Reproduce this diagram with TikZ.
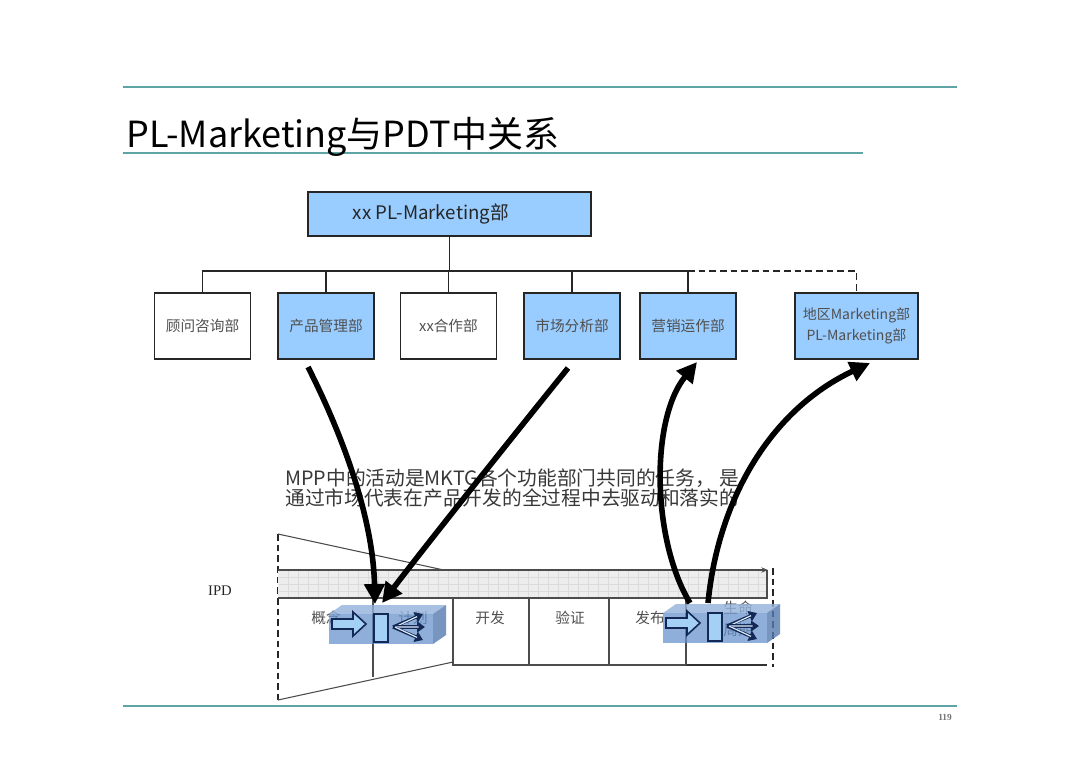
\documentclass[tikz,border=0pt]{standalone}
\usepackage{fontspec}
\setmainfont{Noto Sans CJK SC}
\newfontfamily\serifl{Liberation Serif}
\usetikzlibrary{arrows.meta,calc}
\definecolor{tealline}{RGB}{95,165,165}
\definecolor{boxblue}{RGB}{153,204,255}
\definecolor{cubeblue}{RGB}{100,145,205}
\definecolor{arrblue}{RGB}{165,208,245}
\definecolor{navyline}{RGB}{20,40,85}
\definecolor{txtgray}{RGB}{80,80,80}
\tikzset{
  deptbox/.style={draw=black!85, line width=1.1pt, minimum width=72pt, minimum height=49.5pt, inner sep=1pt, font=\fontsize{11}{14}\selectfont, text=txtgray, align=center},
  bluebox/.style={deptbox, fill=boxblue},
  orgline/.style={line width=0.9pt, black!85},
  phaseline/.style={line width=0.8pt, black!70},
  phaselabel/.style={font=\fontsize{11}{12}\selectfont, text=txtgray},
  bigarrow/.style={line width=4.2pt, black, -{Triangle[length=15pt,width=15pt]}},
  fanarrow/.style={line width=2.4pt, navyline, -{Triangle[length=6pt,width=8pt]}},
  faninner/.style={line width=0.9pt, arrblue!40!white},
  mppcube/.pic={
    \fill[cubeblue!70!white, fill opacity=0.8] (0,0) -- (13,-9) -- (117,-9) -- (104,0) -- cycle;
    \fill[cubeblue!85!black, fill opacity=0.8] (104,0) -- (117,-9) -- (117,21) -- (104,30) -- cycle;
    \fill[cubeblue, fill opacity=0.72] (0,0) rectangle (104,30);
    \draw[navyline, line width=1.2pt, fill=arrblue] (3,5) -- (24,5) -- (24,-2) -- (37,10) -- (24,22) -- (24,15) -- (3,15) -- cycle;
    \draw[navyline, line width=1.2pt, fill=arrblue] (45,0) rectangle (59,28);
    \foreach \ex/\ey in {94/0, 96/13, 94/26} {
      \draw[fanarrow] (64,13) -- (\ex,\ey);
      \draw[faninner] (66,13) -- ($(64,13)!0.8!(\ex,\ey)$);
    }
  }
}
\begin{document}
\begin{tikzpicture}[x=0.75pt, y=-0.75pt]
\useasboundingbox[fill=white] (0,0) rectangle (1080,761);

% header / footer lines
\draw[tealline, line width=1.1pt] (123,87) -- (957,87);
\draw[tealline, line width=1.1pt] (123,153) -- (863,153);
\draw[tealline, line width=1.1pt] (123,706) -- (957,706);
\node[anchor=base west, inner sep=0pt, font=\fontsize{27}{30}\selectfont] (title) at (126,147) {PL-Marketing与PDT中关系};
\node[font=\serifl\fontsize{7}{8}\selectfont\bfseries, text=black!55] (pagenum) at (945,717) {119};

% org chart
\node[bluebox, minimum width=212pt, minimum height=33pt, font=\fontsize{14}{16}\selectfont, text=black!85] (top) at (449.5,214) {xx PL-Marketing部\hspace*{28pt}};
\node[deptbox] (b1) at (202.5,326) {顾问咨询部};
\node[bluebox] (b2) at (326,326) {产品管理部};
\node[deptbox] (b3) at (448.5,326) {xx合作部};
\node[bluebox] (b4) at (572,326) {市场分析部};
\node[bluebox] (b5) at (688,326) {营销运作部};
\node[bluebox, minimum width=92pt, font=\fontsize{10.5}{16}\selectfont] (b6) at (856.5,326) {地区Marketing部\\PL-Marketing部};
\coordinate (bus) at (449.5,271);
\draw[orgline] (top.south) -- (bus);
\draw[orgline] (b1.north) -- (b1.north |- bus) -| (b5.north);
\draw[orgline] (b2.north) -- (b2.north |- bus);
\draw[orgline] (b3.north) -- (b3.north |- bus);
\draw[orgline] (b4.north) -- (b4.north |- bus);
\draw[orgline, dashed, dash pattern=on 5pt off 3pt] (b5.north |- bus) -| (b6.north);

% paragraph
\node[anchor=north west, inner sep=0pt, align=left, font=\fontsize{14.8}{15}\selectfont, text=black!78] (para) at (285,468) {MPP中的活动是MKTG各个功能部门共同的任务，\ 是\\通过市场代表在产品开发的全过程中去驱动和落实的};

% IPD phases
\node[font=\serifl\fontsize{11}{12}\selectfont, text=black!85] (ipd) at (220,591) {IPD};
\draw[line width=1.1pt, dashed, dash pattern=on 5pt off 3pt, black!85] (278,534) -- (278,700);
\draw[phaseline] (278,534) -- (453,572);
\draw[phaseline] (278,700) -- (453,662);
\draw[phaseline] (453,570) -- (453,665) -- (767,665);
\draw[line width=1.4pt, black!80] (686,665) -- (767,665);
\draw[phaseline] (373,598) -- (373,677);
\draw[phaseline] (529,598) -- (529,665);
\draw[phaseline] (609,598) -- (609,665);
\draw[phaseline] (686,598) -- (686,665);
% bar
\fill[black!7] (278,570) rectangle (767,598);
\foreach \gx in {288,298,...,760} \draw[black!14, line width=0.4pt] (\gx,571) -- (\gx,597);
\foreach \gy in {577,584,591} \draw[black!14, line width=0.4pt] (279,\gy) -- (766,\gy);
\draw[phaseline] (278,598) -- (767,598) -- (767,570);
\draw[phaseline, -{Stealth[length=5pt,width=4pt]}] (278,570) -- (768,570);
\draw[line width=1.3pt, dashed, dash pattern=on 5pt off 3pt, black!85] (773,568) -- (773,667);

\node[phaselabel] (p1) at (326,618) {概念};
\node[phaselabel] (p2) at (413,618) {计划};
\node[phaselabel] (p3) at (490,618) {开发};
\node[phaselabel] (p4) at (570,618) {验证};
\node[phaselabel] (p5) at (650,618) {发布};
\node[phaselabel, align=center, font=\fontsize{11}{17}\selectfont] (p6) at (738,619) {生命\\周期};

\pic at (329,614) {mppcube};
\pic at (663,613) {mppcube};

% big arrows
\coordinate (a1s) at (308,367);
\coordinate (a1e) at (375,604);
\coordinate (a2s) at (568,368);
\coordinate (a2e) at (382,603);
\coordinate (a3s) at (690,603);
\coordinate (a3e) at (697,362);
\coordinate (a4s) at (708,603);
\coordinate (a4e) at (870,363);
\draw[bigarrow] (a1s) .. controls (345,440) and (373,520) .. (a1e);
\draw[bigarrow] (a2s) .. controls (530,415) and (430,540) .. (a2e);
\draw[bigarrow] (a3s) .. controls (652,540) and (650,420) .. (a3e);
\draw[bigarrow] (a4s) .. controls (718,500) and (770,410) .. (a4e);
\end{tikzpicture}
\end{document}
